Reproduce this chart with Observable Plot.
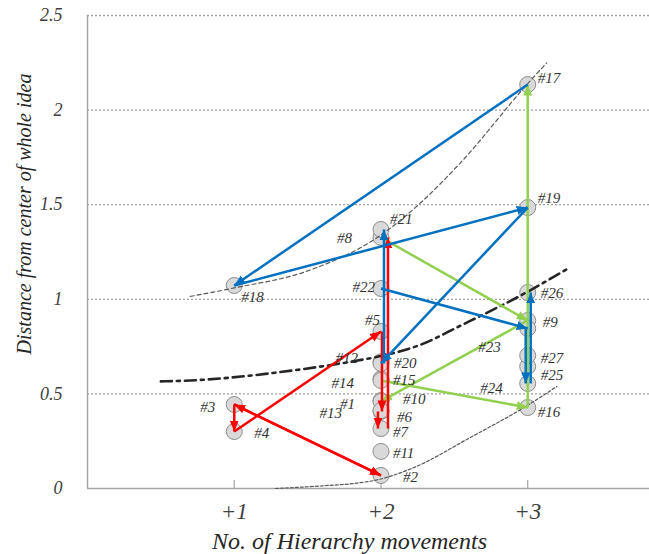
<!DOCTYPE html>
<html>
<head>
<meta charset="utf-8">
<script src="https://cdn.jsdelivr.net/npm/d3@7"></script>
<script src="https://cdn.jsdelivr.net/npm/@observablehq/plot@0.6"></script>
<style>
  html, body { margin: 0; padding: 0; background: #fff; }
  #chart { width: 649px; height: 554px; }
</style>
</head>
<body>
<div id="chart"></div>
<script>
// ---------- data ----------
const ideaIds = ["#1","#2","#3","#4","#5","#6","#7","#8","#9","#10","#11","#12","#13","#14",
  "#15","#16","#17","#18","#19","#20","#21","#22","#23","#24","#25","#26","#27"];
const hierarchyMoves = [2,2,1,1,2,2,2,2,3,2,2,2,2,2,2,3,3,1,3,2,2,2,3,3,3,3,3];
const distances = [0.465,0.069,0.444,0.301,0.830,0.407,0.317,1.327,0.888,0.460,0.196,0.670,0.412,0.580,
  0.571,0.428,2.135,1.073,1.485,0.661,1.369,1.057,0.846,0.555,0.645,1.036,0.703];

// transitions (from idea number -> to idea number)
const redSteps   = [[3,2],[2,3],[3,4],[4,5],[5,6],[6,7],[7,8]];
const greenSteps = [[8,9],[9,10],[15,16],[16,17]];
const blueSteps  = [[17,18],[18,19],[19,20],[20,21],[22,23],[23,24],[24,26]];

// trend curves
const upperTrendX = [0.70,1.00,1.50,2.00,2.27,2.54,3.00,3.13];
const upperTrendY = [1.015,1.06,1.15,1.34,1.51,1.72,2.14,2.25];
const midTrendX   = [0.50,0.70,1.40,1.83,2.00,2.27,2.54,3.00,3.29];
const midTrendY   = [0.566,0.571,0.624,0.675,0.70,0.76,0.86,1.04,1.17];
const lowerTrendX = [1.28,1.60,1.83,1.97,2.21,2.61,3.00,3.20];
const lowerTrendY = [0.0,0.014,0.028,0.045,0.106,0.27,0.44,0.54];

const xTicks = [1,2,3];
const xTickLabels = ["+1","+2","+3"];
const yTicks = [0,0.5,1,1.5,2,2.5];
const yTickLabels = ["0","0.5","1","1.5","2","2.5"];
const gridValues = [0.5,1,1.5,2,2.5];
const xTitle = "No. of Hierarchy movements";
const yTitle = "Distance from center of whole idea";

// ---------- layout (label placement, line offsets) ----------
const labelLayout = {
  "#1":["end",-26,4], "#2":["start",22,2], "#3":["end",-19,3], "#4":["start",20,2],
  "#5":["end",-1,-11], "#6":["start",16,6], "#7":["start",12,4], "#8":["end",-29,1],
  "#9":["start",15,2], "#10":["start",22,-2], "#11":["start",12,2], "#12":["end",-23,-4],
  "#13":["end",-39,3], "#14":["end",-27,4], "#15":["start",12,0], "#16":["start",10,5],
  "#17":["start",10,-6], "#18":["start",7,12], "#19":["start",10,-9], "#20":["start",13,0],
  "#21":["start",9,-10], "#22":["end",-6,-1], "#23":["end",-27,19], "#24":["end",-25,5],
  "#25":["start",13,9], "#26":["start",13,1], "#27":["start",13,3]
};
const stepShift = {"5-6":1, "6-7":-3, "7-8":7, "20-21":3, "23-24":-2, "24-26":3};

// ---------- build tables ----------
const ideas = ideaIds.map((id, i) => ({id, x: hierarchyMoves[i], y: distances[i], n: i + 1}));
const byNum = new Map(ideas.map(d => [d.n, d]));
function steps(list, color) {
  return list.map(([a, b]) => ({
    x1: byNum.get(a).x, y1: byNum.get(a).y, x2: byNum.get(b).x, y2: byNum.get(b).y,
    color, shift: stepShift[a + "-" + b] || 0
  }));
}
const COLORS = {red: "#ff0000", green: "#92d050", blue: "#0070c0"};
const allSteps = [...steps(greenSteps, COLORS.green), ...steps(redSteps, COLORS.red), ...steps(blueSteps, COLORS.blue)];
const upper = upperTrendX.map((x, i) => ({x, y: upperTrendY[i]}));
const mid = midTrendX.map((x, i) => ({x, y: midTrendY[i]}));
const lower = lowerTrendX.map((x, i) => ({x, y: lowerTrendY[i]}));

function solidHead(color) {
  const m = d3.create("svg:marker")
    .attr("viewBox", "-11 -5 11 10")
    .attr("markerWidth", 11).attr("markerHeight", 10)
    .attr("markerUnits", "userSpaceOnUse")
    .attr("refX", 0).attr("refY", 0)
    .attr("orient", "auto");
  m.append("path").attr("d", "M-11,-4.5L0,0L-11,4.5Z").attr("fill", color).attr("stroke", "none");
  return m.node();
}

const serif = "'Liberation Serif', 'Times New Roman', serif";

function build(useMarker) {
  const shifts = [...new Set(allSteps.map(d => d.shift))];
  const stepMarks = [];
  for (const color of [COLORS.green, COLORS.red, COLORS.blue]) {
    for (const s of shifts) {
      const data = allSteps.filter(d => d.color === color && d.shift === s);
      if (!data.length) continue;
      if (useMarker) {
        stepMarks.push(Plot.link(data, {x1: "x1", y1: "y1", x2: "x2", y2: "y2",
          stroke: color, strokeWidth: 2.5, markerEnd: solidHead, dx: s}));
      } else {
        stepMarks.push(Plot.arrow(data, {x1: "x1", y1: "y1", x2: "x2", y2: "y2",
          stroke: color, strokeWidth: 2.5, headLength: 10, headAngle: 50, dx: s}));
      }
    }
  }
  const labelMarks = ideas.map(d => {
    const [anchor, dx, dy] = labelLayout[d.id];
    return Plot.text([d], {x: "x", y: "y", text: "id", textAnchor: anchor, dx, dy,
      fontSize: 15, fontStyle: "italic", fontFamily: serif, fill: "#333"});
  });
  return Plot.plot({
    width: 649,
    height: 554,
    marginLeft: 87,
    marginRight: 0,
    marginTop: 15,
    marginBottom: 66,
    style: {fontFamily: serif, color: "#404040", background: "#fff"},
    x: {domain: [0, 3.83], axis: null},
    y: {domain: [0, 2.5], axis: null},
    marks: [
      Plot.ruleY(gridValues, {stroke: "#a0a0a0", strokeWidth: 1.3, strokeDasharray: "2,2"}),
      Plot.ruleY([0], {stroke: "#a6a6a6", strokeWidth: 1.5}),
      Plot.ruleX([0], {stroke: "#a6a6a6", strokeWidth: 1.5}),
      Plot.ruleX(xTicks, {y1: 0, y2: 0.042, stroke: "#a6a6a6", strokeWidth: 1.2}),
      Plot.axisY({ticks: yTicks, tickFormat: (d) => yTickLabels[yTicks.indexOf(d)], tickSize: 0,
        tickPadding: 25, fontSize: 18, fontStyle: "italic", fontFamily: serif, label: null}),
      Plot.axisX({ticks: xTicks, tickFormat: (d) => xTickLabels[xTicks.indexOf(d)], tickSize: 0,
        tickPadding: 14, fontSize: 23, fontStyle: "italic", fontFamily: serif, label: null}),
      Plot.text([xTitle], {frameAnchor: "bottom", text: d => d, textAnchor: "middle", lineAnchor: "middle",
        dx: -19, dy: 53, fontSize: 24, fontStyle: "italic", fontFamily: serif, fill: "#262626"}),
      Plot.text([yTitle], {frameAnchor: "left", text: d => d, textAnchor: "middle", lineAnchor: "middle",
        rotate: -90, dx: -63, dy: -38, fontSize: 20, fontStyle: "italic", fontFamily: serif, fill: "#262626"}),
      Plot.dot(ideas, {x: "x", y: "y", r: 8, fill: "#d9d9d9", stroke: "#8c8c8c", strokeWidth: 1}),
      Plot.line(upper, {x: "x", y: "y", curve: "monotone-x", stroke: "#595959", strokeWidth: 1.2, strokeDasharray: "4,3"}),
      Plot.line(lower, {x: "x", y: "y", curve: "monotone-x", stroke: "#595959", strokeWidth: 1.2, strokeDasharray: "3,2"}),
      Plot.line(mid, {x: "x", y: "y", curve: "monotone-x", stroke: "#262626", strokeWidth: 2.6, strokeDasharray: "11,5,3,5"}),
      ...stepMarks,
      ...labelMarks
    ]
  });
}

let chart;
try { chart = build(true); } catch (e) { chart = build(false); }
document.getElementById("chart").appendChild(chart);
</script>
</body>
</html>
